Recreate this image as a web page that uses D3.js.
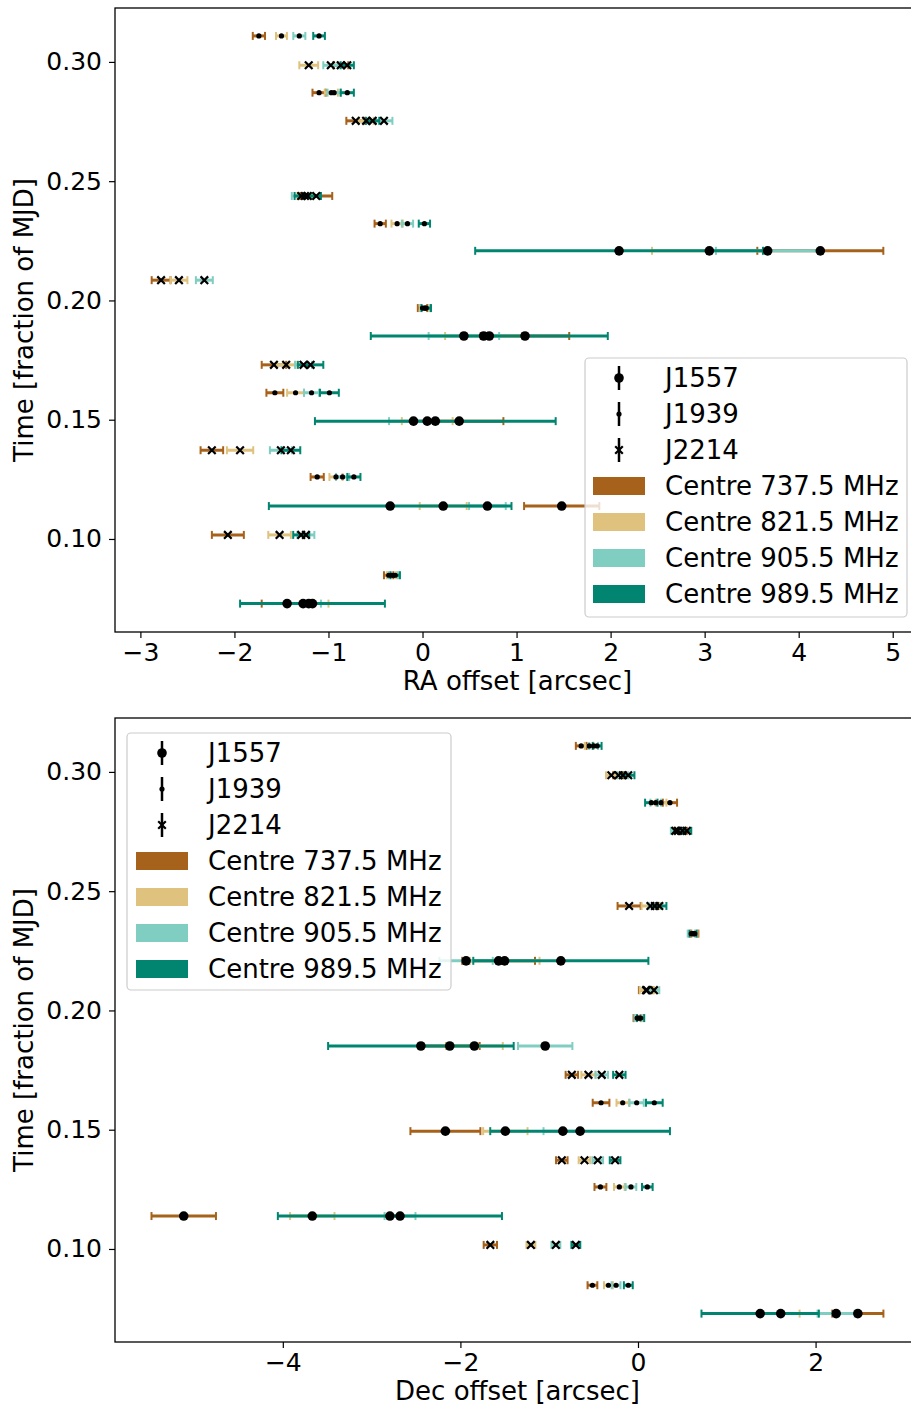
<!DOCTYPE html>
<html>
<head>
<meta charset="utf-8">
<script src="https://cdn.jsdelivr.net/npm/d3@7"></script>
<style>
  html, body { margin: 0; padding: 0; background: #fff; }
  svg { display: block; font-family: "DejaVu Sans", sans-serif; }
</style>
</head>
<body>
<svg id="chart" width="911" height="1409"></svg>
<script>
// ---------------- DATA ----------------
const times = [0.3109, 0.2986, 0.2871, 0.2753, 0.2438, 0.2322, 0.2208, 0.2085, 0.1968, 0.1851,
               0.1730, 0.1613, 0.1494, 0.1372, 0.1260, 0.1138, 0.1017, 0.0848, 0.0729];
const sources = ["J1939","J2214","J1939","J2214","J2214","J1939","J1557","J2214","J1939","J1557",
                 "J2214","J1939","J1557","J2214","J1939","J1557","J2214","J1939","J1557"];
const sourceNames = ["J1557", "J1939", "J2214"];
const bands = ["Centre 737.5 MHz", "Centre 821.5 MHz", "Centre 905.5 MHz", "Centre 989.5 MHz"];
const bandColors = ["#a6611a", "#dfc27d", "#80cdc1", "#018571"];

// RA offsets [arcsec] per band, and their errors
const ra737 = [-1.74, -0.87, -1.10, -0.71, -1.13, -0.45, 4.23, -2.78, 0.00, 1.09, -1.58, -1.57, 0.39, -2.24, -1.12, 1.48, -2.07, -0.36, -1.44];
const ra737Err = [0.065, 0.08, 0.07, 0.10, 0.17, 0.06, 0.67, 0.10, 0.05, 0.47, 0.13, 0.09, 0.47, 0.12, 0.07, 0.40, 0.17, 0.05, 0.27];
const ra821 = [-1.50, -1.21, -0.97, -0.60, -1.25, -0.27, 3.05, -2.59, 0.02, 0.65, -1.45, -1.35, 0.05, -1.94, -0.92, 0.22, -1.52, -0.33, -1.21];
const ra821Err = [0.058, 0.10, 0.07, 0.08, 0.08, 0.06, 0.61, 0.09, 0.05, 0.41, 0.10, 0.09, 0.27, 0.14, 0.07, 0.25, 0.12, 0.05, 0.21];
const ra905 = [-1.31, -0.975, -0.94, -0.41, -1.29, -0.16, 3.67, -2.32, 0.03, 0.44, -1.265, -1.18, -0.096, -1.506, -0.85, 0.69, -1.24, -0.31, -1.27];
const ra905Err = [0.064, 0.08, 0.07, 0.09, 0.10, 0.06, 0.55, 0.09, 0.05, 0.375, 0.09, 0.08, 0.26, 0.117, 0.07, 0.195, 0.09, 0.05, 0.19];
const ra989 = [-1.10, -0.80, -0.80, -0.53, -1.22, 0.02, 2.09, null, 0.04, 0.71, -1.19, -0.99, 0.136, -1.40, -0.73, -0.344, -1.29, -0.29, -1.17];
const ra989Err = [0.062, 0.07, 0.07, 0.07, 0.14, 0.06, 1.53, null, 0.05, 1.26, 0.135, 0.10, 1.28, 0.10, 0.07, 1.29, 0.085, 0.05, 0.77];

// Dec offsets [arcsec] per band, and their errors
const dec737 = [-0.64, -0.22, 0.36, 0.50, -0.10, 0.64, -1.57, 0.09, -0.01, -2.12, -0.745, -0.416, -2.169, -0.858, -0.423, -5.116, -1.663, -0.513, 2.476];
const dec737Err = [0.06, 0.06, 0.08, 0.05, 0.13, 0.04, 0.41, 0.08, 0.04, 0.337, 0.07, 0.094, 0.394, 0.065, 0.067, 0.363, 0.075, 0.055, 0.288];
const dec821 = [-0.55, -0.30, 0.26, 0.45, 0.14, 0.63, -1.502, 0.10, 0.02, -1.843, -0.558, -0.172, -1.494, -0.603, -0.21, -3.668, -1.206, -0.333, 1.607];
const dec821Err = [0.05, 0.06, 0.06, 0.05, 0.10, 0.04, 0.393, 0.08, 0.04, 0.32, 0.08, 0.07, 0.25, 0.065, 0.06, 0.25, 0.05, 0.05, 0.213];
const dec905 = [-0.50, -0.17, 0.20, 0.42, 0.19, 0.60, -1.936, 0.18, 0.00, -1.045, -0.408, -0.015, -0.846, -0.453, -0.079, -2.68, -0.925, -0.247, 2.232];
const dec905Err = [0.05, 0.06, 0.06, 0.05, 0.07, 0.04, 0.30, 0.06, 0.04, 0.306, 0.07, 0.08, 0.218, 0.06, 0.06, 0.174, 0.05, 0.05, 0.21];
const dec989 = [-0.46, -0.11, 0.15, 0.55, 0.24, 0.62, -0.869, null, 0.03, -2.445, -0.21, 0.184, -0.652, -0.258, 0.105, -2.794, -0.70, -0.109, 1.376];
const dec989Err = [0.05, 0.07, 0.07, 0.05, 0.08, 0.04, 0.986, null, 0.04, 1.045, 0.07, 0.094, 1.012, 0.06, 0.06, 1.262, 0.05, 0.05, 0.661];

const raTicks = [-3, -2, -1, 0, 1, 2, 3, 4, 5];
const decTicks = [-4, -2, 0, 2];
const timeTicks = [0.10, 0.15, 0.20, 0.25, 0.30];

// ---------------- LAYOUT ----------------
const svg = d3.select("#chart");
const FS_TICK = 25, FS_LABEL = 26, FS_LEG = 26;
const left = 115, right = 920;
const timeDomain = [0.0610, 0.3226];

const panels = [
  { top: 8, bottom: 632, xDomain: [-3.27, 5.29], ticks: raTicks, label: "RA offset [arcsec]",
    vals: [ra737, ra821, ra905, ra989], errs: [ra737Err, ra821Err, ra905Err, ra989Err],
    legend: { x: 585, y: 358, w: 322, h: 259, handleX: 619, patchX: 593, textX: 665 } },
  { top: 718, bottom: 1342, xDomain: [-5.89, 3.176], ticks: decTicks, label: "Dec offset [arcsec]",
    vals: [dec737, dec821, dec905, dec989], errs: [dec737Err, dec821Err, dec905Err, dec989Err],
    legend: { x: 127, y: 733, w: 324, h: 257, handleX: 162, patchX: 136, textX: 208 } }
];

function drawMarker(g, src, cx, cy) {
  if (src === "J1557") {
    g.append("circle").attr("cx", cx).attr("cy", cy).attr("r", 4.8).attr("fill", "#000");
  } else if (src === "J1939") {
    g.append("circle").attr("cx", cx).attr("cy", cy).attr("r", 2.6).attr("fill", "#000");
  } else {
    const s = 3.8;
    g.append("path")
      .attr("d", `M${cx - s},${cy - s}L${cx + s},${cy + s}M${cx - s},${cy + s}L${cx + s},${cy - s}`)
      .attr("stroke", "#000").attr("stroke-width", 2.2).attr("fill", "none");
  }
}

panels.forEach(p => {
  const x = d3.scaleLinear().domain(p.xDomain).range([left, right]);
  const y = d3.scaleLinear().domain(timeDomain).range([p.bottom, p.top]);
  const g = svg.append("g");

  // error bars (band order: 737.5 first, 989.5 on top)
  const bars = g.append("g");
  bands.forEach((b, bi) => {
    const col = bandColors[bi];
    times.forEach((t, i) => {
      const v = p.vals[bi][i], e = p.errs[bi][i];
      if (v === null || v === undefined) return;
      const cy = y(t), x0 = x(v - e), x1 = x(v + e);
      bars.append("line").attr("x1", x0).attr("x2", x1).attr("y1", cy).attr("y2", cy)
        .attr("stroke", col).attr("stroke-width", 3);
      [x0, x1].forEach(cx => bars.append("line").attr("x1", cx).attr("x2", cx)
        .attr("y1", cy - 4).attr("y2", cy + 4).attr("stroke", col).attr("stroke-width", 2));
    });
  });
  // markers
  const marks = g.append("g");
  bands.forEach((b, bi) => {
    times.forEach((t, i) => {
      const v = p.vals[bi][i];
      if (v === null || v === undefined) return;
      drawMarker(marks, sources[i], x(v), y(t));
    });
  });

  // axes
  const xAxis = d3.axisBottom(x).tickValues(p.ticks).tickFormat(d3.format("d")).tickSize(6).tickPadding(5);
  const yAxis = d3.axisLeft(y).tickValues(timeTicks).tickFormat(d3.format(".2f")).tickSize(6).tickPadding(7);
  const gx = g.append("g").attr("transform", `translate(0,${p.bottom})`).call(xAxis);
  const gy = g.append("g").attr("transform", `translate(${left},0)`).call(yAxis);
  [gx, gy].forEach(a => {
    a.select(".domain").remove();
    a.selectAll(".tick line").attr("stroke", "#000").attr("stroke-width", 1.2);
    a.selectAll(".tick text").attr("font-size", FS_TICK).attr("fill", "#000")
      .attr("font-family", "DejaVu Sans, sans-serif");
  });
  // frame
  g.append("rect").attr("x", left).attr("y", p.top).attr("width", right - left).attr("height", p.bottom - p.top)
    .attr("fill", "none").attr("stroke", "#000").attr("stroke-width", 1.3);

  // axis labels
  g.append("text").attr("x", (left + right) / 2).attr("y", p.bottom + 58)
    .attr("text-anchor", "middle").attr("font-size", FS_LABEL).attr("fill", "#000").text(p.label);
  g.append("text").attr("transform", `translate(33,${(p.top + p.bottom) / 2}) rotate(-90)`)
    .attr("text-anchor", "middle").attr("font-size", FS_LABEL).attr("fill", "#000").text("Time [fraction of MJD]");

  // legend
  const L = p.legend;
  const lg = g.append("g");
  lg.append("rect").attr("x", L.x).attr("y", L.y).attr("width", L.w).attr("height", L.h).attr("rx", 4)
    .attr("fill", "#fff").attr("fill-opacity", 0.8).attr("stroke", "#cccccc").attr("stroke-width", 1.2);
  const rowH = 36, firstY = L.y + 20;
  sourceNames.forEach((s, i) => {
    const cy = firstY + i * rowH;
    lg.append("line").attr("x1", L.handleX).attr("x2", L.handleX).attr("y1", cy - 12).attr("y2", cy + 12)
      .attr("stroke", "#000").attr("stroke-width", 2.5);
    drawMarker(lg, s, L.handleX, cy);
    lg.append("text").attr("x", L.textX).attr("y", cy).attr("dy", "0.36em")
      .attr("font-size", FS_LEG).attr("fill", "#000").text(s);
  });
  bands.forEach((b, bi) => {
    const cy = firstY + (sourceNames.length + bi) * rowH;
    lg.append("rect").attr("x", L.patchX).attr("y", cy - 9).attr("width", 52).attr("height", 18)
      .attr("fill", bandColors[bi]);
    lg.append("text").attr("x", L.textX).attr("y", cy).attr("dy", "0.36em")
      .attr("font-size", FS_LEG).attr("fill", "#000").text(b);
  });
});
</script>
</body>
</html>
